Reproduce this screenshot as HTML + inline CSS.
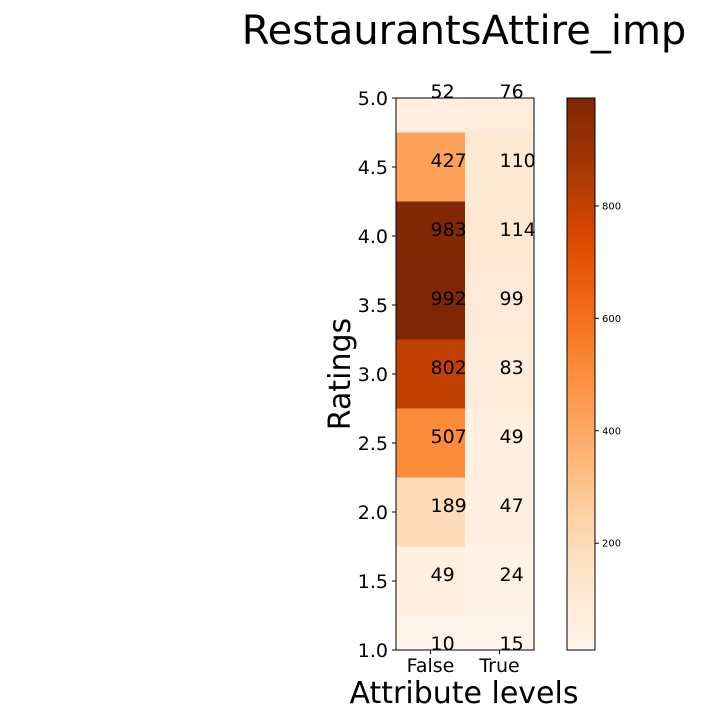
<!DOCTYPE html>
<html><head><meta charset="utf-8"><style>
body{margin:0;background:#fff;}
svg{font-family:"DejaVu Sans","Liberation Sans",sans-serif;}
</style></head><body>
<svg id="chart" width="720" height="720"></svg>
<script>
const categories = ["False", "True"];
const ratings = [1.0, 1.5, 2.0, 2.5, 3.0, 3.5, 4.0, 4.5, 5.0];
const falseCounts = [10, 49, 189, 507, 802, 992, 983, 427, 52];
const trueCounts = [15, 24, 47, 49, 83, 99, 114, 110, 76];
const yTicks = [1.0, 1.5, 2.0, 2.5, 3.0, 3.5, 4.0, 4.5, 5.0];
const cbTicks = [200, 400, 600, 800];

const NS = "http://www.w3.org/2000/svg";
const svg = document.getElementById("chart");
function mk(tag, attrs, parent) {
  const e = document.createElementNS(NS, tag);
  for (const k in attrs) e.setAttribute(k, attrs[k]);
  (parent || svg).appendChild(e);
  return e;
}
const L = 396, R = 534, T = 98, B = 650;
const yMin = 1.0, yMax = 5.0;
const yScale = v => B - (v - yMin) / (yMax - yMin) * (B - T);
const colW = (R - L) / categories.length;
const xScale = i => L + i * colW;
const series = [falseCounts, trueCounts];
const all = falseCounts.concat(trueCounts);
const vmin = Math.min(...all), vmax = Math.max(...all);
const stops = ["#fff5eb","#fee6ce","#fdd0a2","#fdae6b","#fd8d3c","#f16913","#d94801","#a63603","#7f2704"];
function hex(h){return [1,3,5].map(i=>parseInt(h.substr(i,2),16));}
function cmap(v){
  let t = Math.max(0, Math.min(1, (v - vmin) / (vmax - vmin)));
  const p = t * (stops.length - 1), i = Math.min(Math.floor(p), stops.length - 2), f = p - i;
  const a = hex(stops[i]), b = hex(stops[i+1]);
  return "rgb(" + a.map((x,k)=>Math.round(x + (b[k]-x)*f)).join(",") + ")";
}
const step = ratings[1] - ratings[0];
mk("clipPath", {id:"clip"}, mk("defs", {}));
mk("rect", {x:L, y:T, width:R-L, height:B-T}, svg.querySelector("#clip"));
const cells = mk("g", {"clip-path":"url(#clip)"});


series.forEach((vals, ci) => {
  vals.forEach((v, ri) => {
    const y0 = yScale(ratings[ri] + step/2), y1 = yScale(ratings[ri] - step/2);
    const r = mk("rect", {x:xScale(ci), y:y0, width:colW, height:y1-y0, fill:cmap(v)}, cells);
    
    
  });
});
series.forEach((vals, ci) => {
  vals.forEach((v, ri) => {
    const t = mk("text", {x:xScale(ci) + colW/2, y:yScale(ratings[ri]), "font-size":19, fill:"#000"});
    t.textContent = v;
    
    
  });
});
mk("rect", {x:L, y:T, width:R-L, height:B-T, fill:"none", stroke:"#000", "stroke-width":1});
yTicks.forEach(v => {
  const y = yScale(v);
  mk("line", {x1:L-4, x2:L, y1:y, y2:y, stroke:"#000"});
  const t = mk("text", {x:L-8, y:y+7, "font-size":19, "text-anchor":"end"});
  t.textContent = v.toFixed(1);
  
  
});
categories.forEach((c, i) => {
  const x = xScale(i) + colW/2;
  mk("line", {x1:x, x2:x, y1:B, y2:B+4, stroke:"#000"});
  const t = mk("text", {x:x, y:B+22, "font-size":19, "text-anchor":"middle"});
  t.textContent = c;
  
  
});
const CL = 567, CR = 595;
const grad = mk("linearGradient", {id:"cbg", x1:0, y1:1, x2:0, y2:0}, svg.querySelector("defs"));
for (let i = 0; i <= 20; i++) {
  mk("stop", {offset: i/20, "stop-color": cmap(vmin + (vmax-vmin)*i/20)}, grad);
}
const cb = mk("rect", {x:CL, y:T, width:CR-CL, height:B-T, fill:"url(#cbg)", stroke:"#000"});


const cbScale = v => B - (v - vmin) / (vmax - vmin) * (B - T);
cbTicks.forEach(v => {
  const y = cbScale(v);
  mk("line", {x1:CR, x2:CR+4, y1:y, y2:y, stroke:"#000"});
  const t = mk("text", {x:CR+7, y:y+3.5, "font-size":10});
  t.textContent = v;
  
  
});
</script>
<div style="position:absolute;left:0;top:0;width:720px;height:720px;pointer-events:none">
<svg width="720" height="720" style="font-family:'DejaVu Sans','Liberation Sans',sans-serif">
<text x="464" y="44" font-size="40" text-anchor="middle">RestaurantsAttire_imp</text>
<text x="350" y="374" font-size="30" text-anchor="middle" transform="rotate(-90 350 374)">Ratings</text>
<text x="464" y="703" font-size="30" text-anchor="middle">Attribute levels</text>
</svg></div>
</body></html>
